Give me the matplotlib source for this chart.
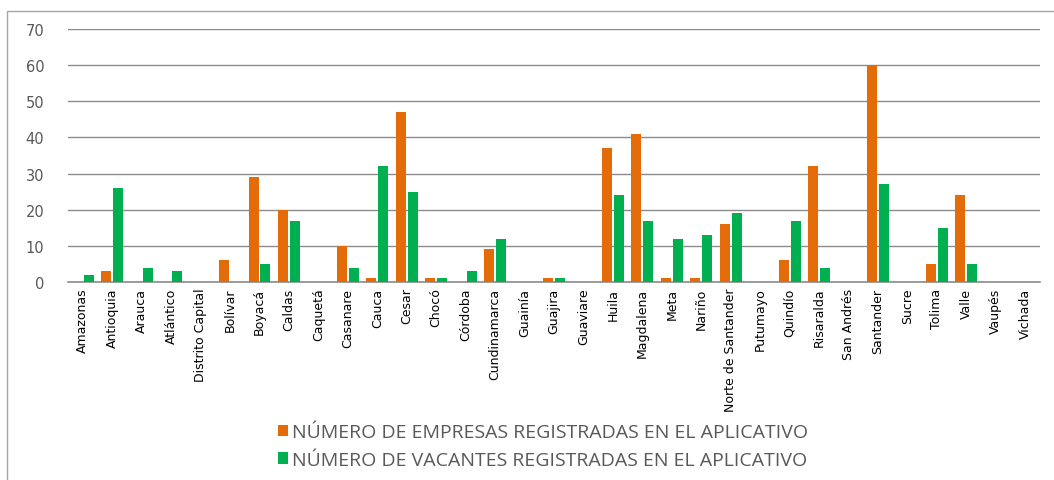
import matplotlib

matplotlib.use("Agg")
import matplotlib.pyplot as plt
import numpy as np
from matplotlib.patches import Rectangle
from matplotlib.font_manager import findfont, FontProperties

# Departamentos y conteos registrados en el aplicativo
departamentos = [
    "Amazonas", "Antioquia", "Arauca", "Atlántico", "Distrito Capital",
    "Bolívar", "Boyacá", "Caldas", "Caquetá", "Casanare", "Cauca", "Cesar",
    "Chocó", "Córdoba", "Cundinamarca", "Guainía", "Guajira", "Guaviare",
    "Huila", "Magdalena", "Meta", "Nariño", "Norte de Santander", "Putumayo",
    "Quindío", "Risaralda", "San Andrés", "Santander", "Sucre", "Tolima",
    "Valle", "Vaupés", "Vichada",
]
empresas = [0, 3, 0, 0, 0, 6, 29, 20, 0, 10, 1, 47, 1, 0, 9, 0, 1, 0,
            37, 41, 1, 1, 16, 0, 6, 32, 0, 60, 0, 5, 24, 0, 0]
vacantes = [2, 26, 4, 3, 0, 0, 5, 17, 0, 4, 32, 25, 1, 3, 12, 0, 1, 0,
            24, 17, 12, 13, 19, 0, 17, 4, 0, 27, 0, 15, 5, 0, 0]
serie_labels = [
    "NÚMERO DE EMPRESAS REGISTRADAS EN EL APLICATIVO",
    "NÚMERO DE VACANTES REGISTRADAS EN EL APLICATIVO",
]
y_ticks = [0, 10, 20, 30, 40, 50, 60, 70]

ORANGE = "#E36C09"
GREEN = "#00B050"
GRID = "#8C8C8C"
TEXT_GRAY = "#595959"

# narrow face for the rotated category labels, if available
narrow = "DejaVu Sans"
for cand in ("Liberation Sans Narrow", "DejaVu Sans Condensed"):
    path = findfont(FontProperties(family=cand), fallback_to_default=True)
    if "Narrow" in path or "Condensed" in path:
        narrow = cand
        break

fig = plt.figure(figsize=(10.54, 4.81), dpi=100)
fig.patch.set_facecolor("white")

# outer chart frame
fig.add_artist(Rectangle((7 / 1054, -0.05), 1.2, 1 - 12 / 481 + 0.05,
                         transform=fig.transFigure, facecolor="none",
                         edgecolor="#A6A6A6", linewidth=1.0))

ax = fig.add_axes([68 / 1054, 1 - 283 / 481, 972 / 1054, 253 / 481])
x = np.arange(len(departamentos))
w = 0.34
ax.bar(x - 0.2, empresas, width=w, color=ORANGE, label=serie_labels[0], zorder=3)
ax.bar(x + 0.2, vacantes, width=w, color=GREEN, label=serie_labels[1], zorder=3)

ax.set_xlim(-0.5, len(departamentos) - 0.5)
ax.set_ylim(0, 70)
ax.set_yticks(y_ticks)
ax.yaxis.grid(True, color=GRID, linewidth=1.0, zorder=0)
ax.set_axisbelow(True)
for side in ("top", "right", "left"):
    ax.spines[side].set_visible(False)
ax.spines["bottom"].set_color(GRID)
ax.spines["bottom"].set_linewidth(1.2)
ax.tick_params(axis="y", length=0, pad=17, labelsize=10.5, labelcolor=TEXT_GRAY)
ax.tick_params(axis="x", length=0, pad=4)
ax.set_xticks(x)
ax.set_xticklabels(departamentos, rotation=90, fontsize=9,
                   family=narrow, color="black")

fig.legend(loc="center", bbox_to_anchor=(543 / 1054, 1 - 447 / 481),
           ncol=1, frameon=False, prop={"family": "Open Sans", "size": 14},
           handlelength=0.5, handleheight=0.5, handletextpad=0.2,
           labelspacing=0.5, labelcolor=TEXT_GRAY)

fig.savefig("out.png", dpi=100)
